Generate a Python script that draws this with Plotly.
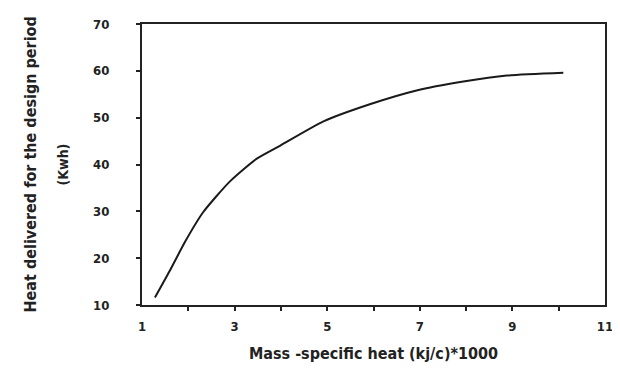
import plotly.graph_objects as go

# Data
mass_specific_heat = [1.28, 1.6, 1.93, 2.32, 2.9, 3.48, 3.98, 4.92, 5.92, 6.93, 7.94, 8.88, 10.1]
heat_delivered = [11.6, 17.3, 23.5, 29.8, 36.4, 41.25, 44.0, 49.2, 52.85, 55.8, 57.7, 59.0, 59.6]

x_tickvals = [1, 3, 5, 7, 9, 11]
x_ticktext = ["1", "3", "5", "7", "9", "11"]
y_tickvals = [10, 20, 30, 40, 50, 60, 70]

FONT = "Liberation Sans Narrow, Arial Narrow, DejaVu Sans Condensed, Liberation Sans, Arial, sans-serif"
INK = "#222222"

fig = go.Figure()
fig.add_trace(go.Scatter(
    x=mass_specific_heat, y=heat_delivered, mode="lines",
    line=dict(color="#1a1a1a", width=2, shape="spline", smoothing=0.6),
    showlegend=False, hoverinfo="skip"))

fig.update_layout(
    width=620, height=378,
    margin=dict(l=134, r=23, t=9, b=81),
    paper_bgcolor="white", plot_bgcolor="white",
    font=dict(family=FONT, color=INK, size=13),
    xaxis=dict(
        range=[1, 11], showgrid=False, zeroline=False,
        showline=True, linecolor=INK, linewidth=2, mirror=True,
        tickmode="array", tickvals=list(range(2, 11)), ticktext=[""] * 9,
        ticks="outside", ticklen=4, tickwidth=2, tickcolor=INK,
    ),
    xaxis2=dict(
        overlaying="x", range=[1, 11], side="bottom",
        showgrid=False, zeroline=False, showline=False,
        tickmode="array", tickvals=x_tickvals, ticktext=x_ticktext,
        ticks="", ticklabelstandoff=12,
        tickfont=dict(family=FONT, size=13, color=INK, weight="bold"),
        title=dict(text="Mass -specific heat (kj/c)*1000", standoff=14,
                   font=dict(family=FONT, size=16, color=INK, weight="bold")),
    ),
    yaxis=dict(
        range=[10, 70], showgrid=False, zeroline=False,
        showline=True, linecolor=INK, linewidth=2, mirror=True,
        tickmode="array", tickvals=y_tickvals,
        ticktext=[str(v) for v in y_tickvals],
        ticks="outside", ticklen=4, tickwidth=2, tickcolor=INK,
        ticklabelstandoff=24,
        tickfont=dict(family=FONT, size=13, color=INK, weight="bold"),
    ),
)
# invisible trace carrying the labelled x axis
fig.add_trace(go.Scatter(x=[1, 11], y=[None, None], xaxis="x2", mode="lines",
                         showlegend=False, hoverinfo="skip"))

fig.add_annotation(text="Heat delivered for the design period", xref="paper", yref="paper",
                   x=0, y=0.5, xanchor="center", yanchor="middle", textangle=-90,
                   showarrow=False, xshift=-112,
                   font=dict(family=FONT, size=16, color=INK, weight="bold"))
fig.add_annotation(text="(Kwh)", xref="paper", yref="paper",
                   x=0, y=0.5, xanchor="center", yanchor="middle", textangle=-90,
                   showarrow=False, xshift=-80,
                   font=dict(family=FONT, size=14, color=INK, weight="bold"))

fig.write_html("out.html")
